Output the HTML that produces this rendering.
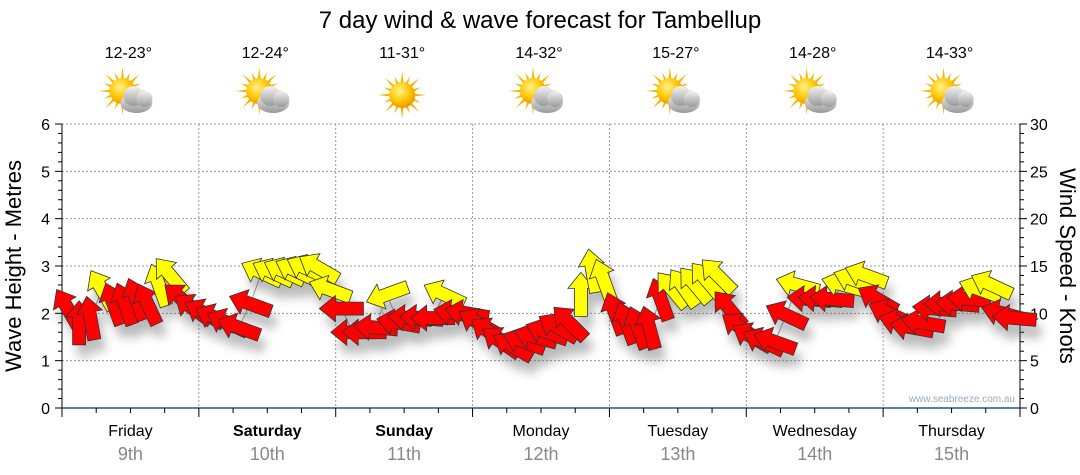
<!DOCTYPE html>
<html><head><meta charset="utf-8"><style>
body{margin:0;background:#fff;font-family:"Liberation Sans",sans-serif}
svg{display:block}
</style></head><body>
<svg id="c" width="1080" height="475">
<defs>
<filter id="sh" x="-50%" y="-50%" width="200%" height="200%"><feGaussianBlur stdDeviation="5"/></filter>
<radialGradient id="sun" cx="0.4" cy="0.35" r="0.7"><stop offset="0" stop-color="#fff38a"/><stop offset="0.6" stop-color="#ffc400"/><stop offset="1" stop-color="#f08a00"/></radialGradient>
<linearGradient id="cl" x1="0" y1="0" x2="0" y2="1"><stop offset="0" stop-color="#f2f2f2"/><stop offset="1" stop-color="#9a9a9a"/></linearGradient>
</defs>
</svg>
<script>
const days=["Friday","Saturday","Sunday","Monday","Tuesday","Wednesday","Thursday"];
const dates=["9th","10th","11th","12th","13th","14th","15th"];
const temps=["12-23°","12-24°","11-31°","14-32°","15-27°","14-28°","14-33°"];
const sunny=[false,false,true,false,false,false,false];
const waveTicks=[0,1,2,3,4,5,6];
const windTicks=[0,5,10,15,20,25,30];
const windSpeed=[10.5,9,9.5,12.5,11,11,11.5,11,13,14,11.5,10.5,
10,9.5,9,8.5,11,14.3,14.3,14.4,14.5,14.7,14.8,12.5,
10.5,8,8,8.5,12,9,9.5,9.5,9.5,12,10,10,
9,8,7,6.5,7,7.5,8,8.5,9,12,14.5,13.5,
10,9,8.5,8.5,11.5,12.5,12.7,13,13.5,14,10.5,8.5,
7.5,7,7,9.8,13,11.5,11.5,11.5,13,13.5,14,11.5,
10,9,8.5,9,10.5,11,11,11.5,12.5,13,10,9.5];
const windDir=[330,0,350,330,340,340,340,335,340,320,310,305,
300,295,295,290,290,295,295,295,295,295,300,290,
270,270,270,275,250,280,275,275,270,295,280,280,
300,305,305,300,290,285,290,300,315,0,350,340,
340,340,340,345,340,320,325,320,320,315,320,305,
300,295,290,295,285,275,275,275,285,290,290,300,
295,285,280,280,275,270,275,275,290,295,285,275];
const NS="http://www.w3.org/2000/svg";
const svg=document.getElementById('c');
const X0=62,X1=1020,Y0=408,Y6=124;
const dayW=(X1-X0)/7;
const yW=v=>Y0-(Y0-Y6)*v/6;
const yK=k=>Y0-(Y0-Y6)*k/30;
const xI=i=>X0+dayW*(i+0.5)/12;
function el(t,a,p){const e=document.createElementNS(NS,t);for(const k in a)e.setAttribute(k,a[k]);(p||svg).appendChild(e);return e;}
function tx(s,a,p){const e=el('text',a,p);e.textContent=s;return e;}
let t=tx("7 day wind & wave forecast for Tambellup",{x:540,y:28,'text-anchor':'middle','font-size':24,fill:'#000'});

const g=el('g',{});

waveTicks.forEach(v=>{if(v>0)el('line',{x1:X0,x2:X1,y1:yW(v),y2:yW(v),stroke:'#999','stroke-dasharray':'2,2'},g);});
for(let d=1;d<7;d++){const x=X0+dayW*d;el('line',{x1:x,x2:x,y1:Y6,y2:Y0,stroke:'#999','stroke-dasharray':'2,2'},g);}
const ax=el('g',{});

el('line',{x1:X0,x2:X0,y1:Y6,y2:Y0,stroke:'#000'},ax);
el('line',{x1:X1,x2:X1,y1:Y6,y2:Y0,stroke:'#000'},ax);
for(let v=0;v<=30;v++){const y=yK(v);const L=v%5==0?7:4;
 el('line',{x1:X0-L,x2:X0,y1:y,y2:y,stroke:'#000'},ax);
 el('line',{x1:X1,x2:X1+L,y1:y,y2:y,stroke:'#000'},ax);}
el('line',{x1:X0,x2:X1,y1:Y0,y2:Y0,stroke:'#1a5a8a','stroke-width':1.5},ax);
for(let q=0;q<=28;q++){const x=X0+dayW*q/4;el('line',{x1:x,x2:x,y1:Y0,y2:Y0+(q%4==0?9:5),stroke:'#000'},ax);}
waveTicks.forEach(v=>{const e=tx(v,{x:X0-12,y:yW(v)+6,'text-anchor':'end','font-size':16,fill:'#000'});
 });
windTicks.forEach(v=>{const e=tx(v,{x:X1+10,y:yK(v)+6,'font-size':16,fill:'#000'});
 });
t=tx("Wave Height - Metres",{x:0,y:0,transform:'translate(21,266) rotate(-90)','text-anchor':'middle','font-size':22,fill:'#000'});

t=tx("Wind Speed - Knots",{x:0,y:0,transform:'translate(1060,266) rotate(90)','text-anchor':'middle','font-size':22,fill:'#000'});

t=tx("www.seabreeze.com.au",{x:1015,y:402,'text-anchor':'end','font-size':10,fill:'#9ab'});

days.forEach((d,i)=>{const cx=X0+dayW*(i+0.5);const bold=(i==1||i==2);
 let e=tx(d,{x:cx,y:436,'text-anchor':'middle','font-size':16,fill:'#000','font-weight':bold?'bold':'normal'});
 
 e=tx(dates[i],{x:cx,y:460,'text-anchor':'middle','font-size':18,fill:'#888'});
 
 e=tx(temps[i],{x:cx-2,y:58,'text-anchor':'middle','font-size':16,fill:'#000'});
 
 const ic=el('g',{transform:`translate(${cx-2},95)`});
 
 const sx=sunny[i]?0:-6, sy=sunny[i]?0:-4;
 for(let r=0;r<16;r++){const a=r*Math.PI/8;const L=r%2?20:24;
  el('polygon',{points:`${sx+Math.cos(a-0.12)*12},${sy+Math.sin(a-0.12)*12} ${sx+Math.cos(a)*L},${sy+Math.sin(a)*L} ${sx+Math.cos(a+0.12)*12},${sy+Math.sin(a+0.12)*12}`,fill:'#f5b800'},ic);}
 el('circle',{cx:sx,cy:sy,r:13,fill:'url(#sun)'},ic);
 if(!sunny[i]){const cg=el('g',{},ic);
  el('ellipse',{cx:8,cy:8,rx:16,ry:10,fill:'url(#cl)'},cg);
  el('circle',{cx:5,cy:1,r:10,fill:'url(#cl)'},cg);
  el('circle',{cx:16,cy:4,r:8,fill:'url(#cl)'},cg);}
});
const pts=windSpeed.map((k,i)=>`${xI(i)},${yK(k)}`).join(' ');
const wl=el('polyline',{points:pts,fill:'none',stroke:'#999','stroke-width':1});

const shp="0,-22 13,-6 6.5,-6 6.5,22 -6.5,22 -6.5,-6 -13,-6";
const sg=el('g',{filter:'url(#sh)',opacity:0.4});

windSpeed.forEach((k,i)=>{el('polygon',{points:shp,fill:'#555',transform:`translate(${xI(i)+5},${yK(k)+12}) rotate(${windDir[i]})`},sg);});
const ag=el('g',{});

windSpeed.forEach((k,i)=>{
 const a=el('polygon',{points:shp,fill:k>=12?'#ffff00':'#ff0000',stroke:'#333','stroke-width':0.8,'stroke-linejoin':'miter',transform:`translate(${xI(i)},${yK(k)}) rotate(${windDir[i]})`},ag);
 
 
});
</script>
</body></html>
